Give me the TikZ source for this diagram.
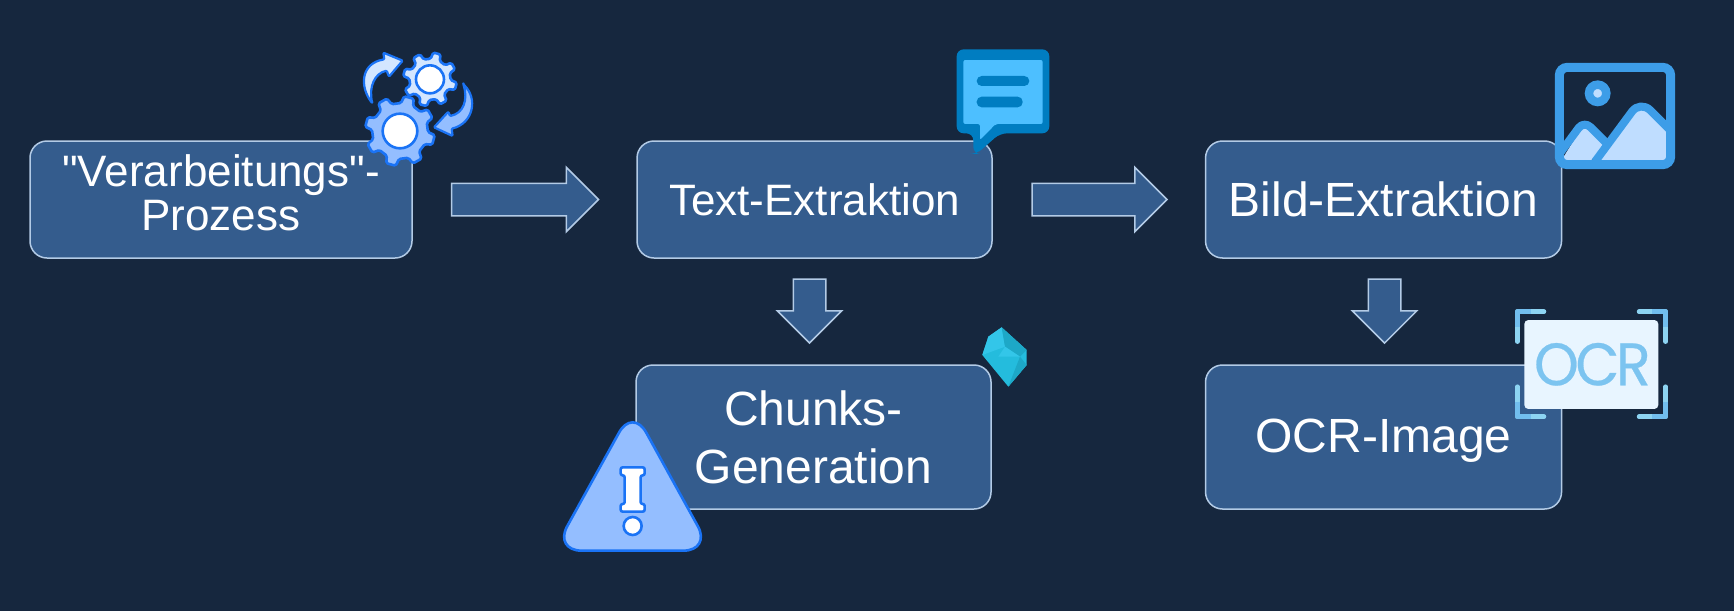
\documentclass[tikz,border=0pt]{standalone}
\usepackage{fontspec}
\newfontfamily\boxfont{Liberation Sans}
\newfontfamily\ocrfont[LetterSpace=-6,FakeBold=0.4]{Poppins}
\usetikzlibrary{shapes.arrows,positioning}
\definecolor{pagebg}{HTML}{16273E}
\definecolor{boxfill}{HTML}{345C8D}
\definecolor{boxline}{HTML}{B3CBE6}
\definecolor{gearblue}{HTML}{1A73F5}
\definecolor{gearmid}{HTML}{94BEFF}
\definecolor{gearpale}{HTML}{D3E6FF}
\definecolor{bubbledark}{HTML}{007DC1}
\definecolor{bubblelight}{HTML}{4DBFFF}
\definecolor{photoblue}{HTML}{3D9DE8}
\definecolor{photopale}{HTML}{BFDDFF}
\definecolor{ocrpaper}{HTML}{E8F5FF}
\definecolor{ocrtext}{HTML}{7CC4F0}
\definecolor{ocrcorner}{HTML}{8DD4F2}
\definecolor{ocrcornerdark}{HTML}{72BEEE}
\definecolor{gemmain}{HTML}{24BCDD}
\definecolor{gemlight}{HTML}{33C6E9}
\definecolor{gemdark}{HTML}{1DA8C7}
\tikzset{
  stepbox/.style={rectangle,draw=boxline,fill=boxfill,line width=1.5pt,
                  rounded corners=17pt,outer sep=0pt,align=center,text=white,
                  text width=340pt,
                  font=\boxfont\fontsize{44}{44}\selectfont},
  stepboxbig/.style={stepbox,font=\boxfont\fontsize{48}{58}\selectfont},
  blockarr/.style={single arrow,draw=boxline,fill=boxfill,line width=1.5pt,
                   single arrow head extend=16pt,single arrow head indent=0pt,
                   inner sep=0pt,outer sep=0pt,text height=31pt,text depth=0pt,
                   text width=0pt},
  gearline/.style={draw=gearblue,line width=2.6pt,line join=round},
}
% one gear: centre, tip radius, root radius, hole radius, fill
\newcommand{\gearwheel}[5]{
  \begin{scope}[shift={(#1)}]
    \draw[gearline,fill=#5,rounded corners=1.5pt] (15-13:#3)
      \foreach \a in {15,60,...,330}{
        -- (\a-13:#3) -- (\a-8:#2) -- (\a+8:#2) -- (\a+13:#3)
      } -- cycle;
    \draw[gearline,fill=white] (0,0) circle (#4);
  \end{scope}
}
\begin{document}
\begin{tikzpicture}[x=1pt,y=-1pt]
    \fill[pagebg] (0,0) rectangle (1734,611);
    \useasboundingbox (0,0) rectangle (1734,611);

    % Boxes
    \node[stepbox,minimum width=382pt,minimum height=117pt] (process) at (221,199.5)
          {"Verarbeitungs"-\\Prozess\rule[-13pt]{0pt}{13pt}};
    \node[blockarr,minimum height=147pt,right=39.5pt of process] (arrone) {};
    \node[stepbox,minimum width=355pt,minimum height=117pt,right=38.5pt of arrone] (text)
          {Text-Extraktion};
    \node[blockarr,minimum height=135pt,right=40pt of text] (arrtwo) {};
    \node[stepboxbig,minimum width=356pt,minimum height=117pt,right=38.5pt of arrtwo] (image)
          {Bild-Extraktion};
    \coordinate (texttop) at ([xshift=-5pt]text.south);
    \node[blockarr,minimum height=64pt,rotate=-90,
          below=21pt of texttop,anchor=tail] (arrthree) {};
    \node[stepboxbig,minimum width=355pt,minimum height=144pt,below=107pt of text,xshift=-1pt] (chunks)
          {Chunks-\\Generation};
    \coordinate (imagetop) at ([xshift=1pt]image.south);
    \node[blockarr,minimum height=64pt,rotate=-90,
          below=21pt of imagetop,anchor=tail] (arrfour) {};
    \node[stepboxbig,minimum width=356pt,minimum height=144pt,below=107pt of image] (ocr)
          {\rule{0pt}{40pt}OCR-Image};

    % Gears and turning arrows
    \begin{scope}[shift={(340,30)},scale=0.3333]
      \draw[gearline,fill=gearpale,line width=2.2pt,rounded corners=1pt]
        (97,220) .. controls (58,170) and (62,100) .. (133,88) -- (130,68) -- (188,92)
        -- (147,140) -- (140,122) .. controls (105,130) and (85,170) .. (97,220) -- cycle;
      \draw[gearline,fill=gearmid,line width=2.2pt,rounded corners=1pt]
        (370,163) .. controls (415,205) and (400,280) .. (335,296) -- (338,318) -- (282,292)
        -- (325,245) -- (330,258) .. controls (370,250) and (385,210) .. (370,163) -- cycle;
      \gearwheel{270,148}{81}{62}{42}{gearpale}
      \gearwheel{180,303}{105}{84}{52}{gearmid}
    \end{scope}

    % Speech bubble
    \begin{scope}[shift={(930,30)},scale=0.3333]
      \fill[bubbledark,rounded corners=7pt] (80,58) -- (358,58) -- (358,310) -- (210,310)
        -- (140,372) -- (130,372) -- (130,310) -- (80,310) -- cycle;
      \fill[bubblelight,rounded corners=2pt] (100,90) -- (338,90) -- (338,282) -- (197,282)
        -- (150,330) -- (150,282) -- (100,282) -- cycle;
      \fill[bubbledark,rounded corners=5pt] (140,138) rectangle (298,168);
      \fill[bubbledark,rounded corners=5pt] (140,200) rectangle (278,232);
    \end{scope}

    % Picture frame
    \begin{scope}[shift={(1540,50)},scale=0.3333]
      \fill[photopale] (70,322) -- (130,225) -- (150,225) -- (195,285) -- (150,335) -- (70,335) -- cycle;
      \fill[photopale] (175,335) -- (295,170) -- (315,170) -- (385,250) -- (385,335) -- cycle;
      \draw[photoblue,line width=8pt,line join=round,rounded corners=9pt]
        (58,312) -- (132,212) -- (205,285);
      \draw[photoblue,line width=8pt,line join=round,rounded corners=14pt]
        (165,335) -- (301,151) -- (388,238);
      \draw[photoblue,line width=9pt,rounded corners=8pt] (58,52) rectangle (392,344);
      \draw[photoblue,line width=8.5pt,fill=photopale] (173,130) circle (26);
    \end{scope}

    % Warning triangle
    \begin{scope}[shift={(550,410)},scale=0.3333]
      \draw[gearline,fill=gearmid,rounded corners=28pt] (248,-6) -- (484,422) -- (11,422) -- cycle;
      \draw[gearline,fill=white,rounded corners=2pt] (212,172) -- (284,172) -- (284,196)
        -- (272,196) -- (272,282) -- (284,282) -- (284,305) -- (212,305) -- (212,282)
        -- (224,282) -- (224,196) -- (212,196) -- cycle;
      \draw[gearline,fill=white] (248,348) circle (27);
    \end{scope}

    % Crystal
    \begin{scope}[shift={(970,315)},scale=0.3333]
      \fill[gemmain] (95,37) -- (170,105) -- (170,150) -- (115,215)
        -- (37,120) -- (55,65) -- cycle;
      \fill[gemlight] (95,37) -- (55,65) -- (37,120) -- (105,95) -- cycle;
      \fill[gemdark] (95,37) -- (170,105) -- (150,125) -- (105,95) -- cycle;
      \fill[gemdark] (150,125) -- (170,150) -- (115,215) -- cycle;
      \fill[gemlight] (85,125) -- (105,95) -- (150,125) -- cycle;
    \end{scope}

    % OCR card
    \begin{scope}[shift={(1500,295)},scale=0.3333]
      \foreach \x/\xb/\y/\yb in {52/132/50/140,497/417/50/140,52/132/365/275,497/417/365/275}{
        \draw[ocrcorner,line width=4.5pt,line cap=round,line join=round]
          (\x,\yb) -- (\x,\y) -- (\xb,\y);
        \draw[ocrcornerdark,line width=4.5pt,line join=round]
          (\x,{(\y+\yb)/2}) -- (\x,\y) -- ({(\x+\xb)/2},\y);
      }
      \fill[ocrpaper,rounded corners=4pt] (73,75) rectangle (475,342);
      \node[text=ocrtext,font=\ocrfont\fontsize{60}{60}\selectfont,xscale=.95,inner sep=0pt]
        (ocrlabel) at (277,208) {OCR};
    \end{scope}
\end{tikzpicture}
\end{document}
